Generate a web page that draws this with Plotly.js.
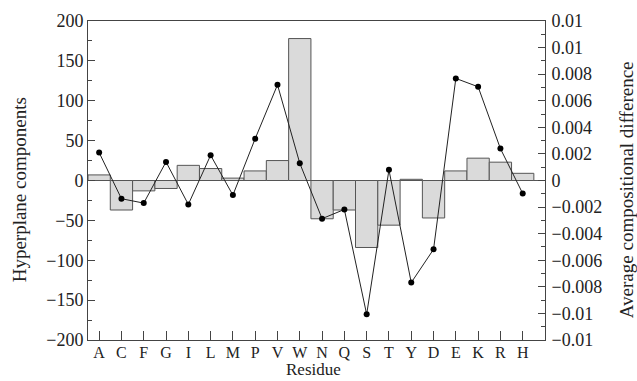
<!DOCTYPE html>
<html>
<head>
<meta charset="utf-8">
<script src="https://cdn.plot.ly/plotly-3.0.1.min.js"></script>
<style>html,body{margin:0;padding:0;background:#fff;}#chart{width:637px;height:381px;}</style>
</head>
<body>
<div id="chart"></div>
<script>
var residues = ["A","C","F","G","I","L","M","P","V","W","N","Q","S","T","Y","D","E","K","R","H"];
var hyperplane = [7,-37,-13,-10,19,15,3,12,25,178,-48,-37,-84,-56,1.5,-47,12,28,23,9];
var avgDiff = [0.0021,-0.00137,-0.0017,0.0014,-0.0018,0.0019,-0.0011,0.00315,0.0072,0.0013,-0.00287,-0.00218,-0.01007,0.0008,-0.00768,-0.00518,0.00768,0.00705,0.0024,-0.00098];
var leftTicks = [-200,-150,-100,-50,0,50,100,150,200];
var rightTicks = [-0.012,-0.01,-0.008,-0.006,-0.004,-0.002,0,0.002,0.004,0.006,0.008,0.01,0.012];
var rightTickText = ["\u22120.01","\u22120.01","\u22120.008","\u22120.006","\u22120.004","\u22120.002","0","0.002","0.004","0.006","0.008","0.01","0.01"];

var font = "Liberation Serif, Times New Roman, serif";
var axisColor = "#444";
var tickSize = 18;
var titleSize = 19;

var traces = [
  {type:"bar", x:residues, y:hyperplane, width:1, yaxis:"y",
   marker:{color:"#dadada", line:{color:"#555", width:1}}},
  {type:"scatter", mode:"lines+markers", x:residues, y:avgDiff, yaxis:"y2",
   line:{color:"#222", width:1}, marker:{color:"#000", size:6}}
];

var layout = {
  width:637, height:381,
  margin:{l:88, r:92, t:21, b:41},
  paper_bgcolor:"#fff", plot_bgcolor:"#fff",
  showlegend:false,
  font:{family:font, size:tickSize, color:"#222"},
  xaxis:{type:"category", range:[-0.5,20], showline:true, linecolor:axisColor, linewidth:1, mirror:true,
         ticks:"inside", ticklen:9, tickcolor:axisColor, showgrid:false, zeroline:false,
         tickfont:{family:font, size:16}, ticklabelstandoff:-2},
  yaxis:{range:[-200,200], tickvals:leftTicks, showline:true, linecolor:axisColor, linewidth:1,
         ticks:"inside", ticklen:7, tickcolor:axisColor, showgrid:false,
         zeroline:true, zerolinecolor:"#555", zerolinewidth:1,
         minor:{tickvals:[-175,-125,-75,-25,25,75,125,175], ticks:"inside", ticklen:4, tickcolor:axisColor, showgrid:false},
         tickfont:{family:font, size:tickSize}, ticklabelstandoff:0},
  yaxis2:{range:[-0.012,0.012], overlaying:"y", side:"right", tickvals:rightTicks, ticktext:rightTickText,
          showline:true, linecolor:axisColor, linewidth:1,
          ticks:"inside", ticklen:7, tickcolor:axisColor, showgrid:false, zeroline:false,
          minor:{tickvals:[-0.011,-0.009,-0.007,-0.005,-0.003,-0.001,0.001,0.003,0.005,0.007,0.009,0.011], ticks:"inside", ticklen:4, tickcolor:axisColor, showgrid:false},
          tickfont:{family:font, size:tickSize}, ticklabelstandoff:2},
  annotations:[
    {text:"Hyperplane components", xref:"paper", yref:"paper", x:-0.149, y:0.472, textangle:-90,
     showarrow:false, xanchor:"center", yanchor:"middle", font:{family:font, size:titleSize, color:"#222"}},
    {text:"Average compositional difference", xref:"paper", yref:"paper", x:1.179, y:0.472, textangle:-90,
     showarrow:false, xanchor:"center", yanchor:"middle", font:{family:font, size:titleSize, color:"#222"}},
    {text:"Residue", xref:"paper", yref:"paper", x:0.494, y:-0.128, showarrow:false,
     xanchor:"center", yanchor:"bottom", font:{family:font, size:17, color:"#222"}}
  ]
};

Plotly.newPlot("chart", traces, layout, {displayModeBar:false, staticPlot:true});
</script>
</body>
</html>
